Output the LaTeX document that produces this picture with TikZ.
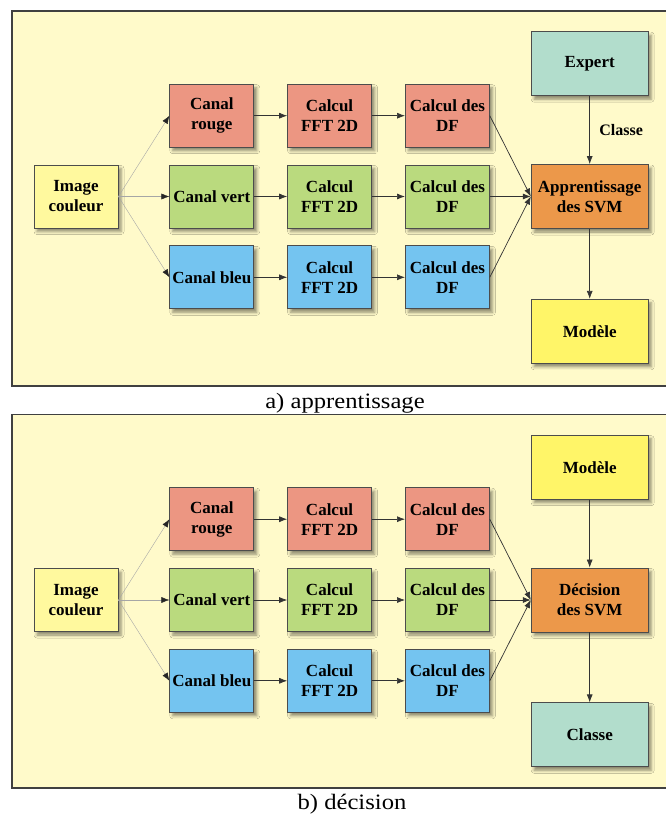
\documentclass[tikz,border=0pt]{standalone}
\usepackage{fontspec,graphicx}
\setmainfont{Liberation Serif}
\usetikzlibrary{arrows.meta,positioning,shadows.blur}
\definecolor{fondjaune}{RGB}{255,250,202}
\definecolor{jaunepale}{RGB}{255,249,158}
\definecolor{jaunevif}{RGB}{255,245,104}
\definecolor{saumon}{RGB}{236,150,130}
\definecolor{vertclair}{RGB}{186,218,126}
\definecolor{bleuciel}{RGB}{116,196,240}
\definecolor{orangesvm}{RGB}{236,152,74}
\definecolor{menthe}{RGB}{178,221,204}
\tikzset{
  blk/.style={draw=black!70,line width=0.8pt,rectangle,minimum width=84pt,minimum height=63pt,inner sep=1pt,align=center,
    font=\bfseries\fontsize{17}{20}\selectfont,
    blur shadow={shadow xshift=3pt,shadow yshift=-3.5pt,shadow blur radius=3pt,shadow opacity=45}},
  wideblk/.style={blk,minimum width=117pt,minimum height=64pt},
  imgblk/.style={blk,fill=jaunepale},
  rougeblk/.style={blk,fill=saumon},
  vertblk/.style={blk,fill=vertclair},
  bleublk/.style={blk,fill=bleuciel},
  svmblk/.style={wideblk,fill=orangesvm},
  mentheblk/.style={wideblk,fill=menthe},
  modblk/.style={wideblk,fill=jaunevif},
  arr/.style={-{Latex[length=8pt,width=6pt]},line width=0.7pt,draw=black!80},
  farr/.style={-{Latex[length=8pt,width=6pt,color=black!85]},line width=0.4pt,draw=black!35},
  cadre/.style={draw=black!75,line width=1.6pt},
  lbl/.style={font=\bfseries\fontsize{16}{19}\selectfont},
  legende/.style={font=\fontsize{22}{26}\selectfont,inner sep=0pt,anchor=base}
}
\begin{document}
\begin{tikzpicture}[x=1pt,y=-1pt,node distance=17pt and 33pt]
  \useasboundingbox (0,0) rectangle (666,814);
  \clip (0,0) rectangle (666,814);

  % a) apprentissage
  \fill[fondjaune] (12,11) rectangle (680,386);
  \draw[cadre] (680,11) -- (12,11) -- (12,386) -- (680,386);

  \node[imgblk] (imgA) at (76,196.5) {Image\\couleur};
  \node[vertblk, right=51pt of imgA] (vertA) {Canal vert};
  \node[rougeblk, above=of vertA] (rougeA) {Canal\\rouge};
  \node[bleublk, below=of vertA] (bleuA) {Canal bleu};
  \node[rougeblk, right=of rougeA] (fftrA) {Calcul\\FFT 2D};
  \node[vertblk, right=of vertA] (fftvA) {Calcul\\FFT 2D};
  \node[bleublk, right=of bleuA] (fftbA) {Calcul\\FFT 2D};
  \node[rougeblk, right=of fftrA] (dfrA) {Calcul des\\DF};
  \node[vertblk, right=of fftvA] (dfvA) {Calcul des\\DF};
  \node[bleublk, right=of fftbA] (dfbA) {Calcul des\\DF};
  \node[svmblk, right=41pt of dfvA] (svmA) {Apprentissage\\des SVM};
  \node[mentheblk, above=68pt of svmA] (expert) {Expert};
  \node[modblk, below=70pt of svmA] (modA) {Modèle};

  \draw[farr] (imgA.east) -- (rougeA.west);
  \draw[farr] (imgA.east) -- (vertA.west);
  \draw[farr] (imgA.east) -- (bleuA.west);
  \draw[arr] (rougeA) -- (fftrA);
  \draw[arr] (vertA) -- (fftvA);
  \draw[arr] (bleuA) -- (fftbA);
  \draw[arr] (fftrA) -- (dfrA);
  \draw[arr] (fftvA) -- (dfvA);
  \draw[arr] (fftbA) -- (dfbA);
  \draw[arr] (dfrA.east) -- (svmA.west);
  \draw[arr] (dfvA.east) -- (svmA.west);
  \draw[arr] (dfbA.east) -- (svmA.west);
  \draw[arr] (expert) -- node[lbl, right=6pt] (classeA) {Classe} (svmA);
  \draw[arr] (svmA) -- (modA);

  \node[legende] (legA) at (345,408) {\scalebox{1.12}[1]{a) apprentissage}};

  % b) decision
  \fill[fondjaune] (12,414.5) rectangle (680,788);
  \draw[cadre] (680,414.5) -- (12,414.5) -- (12,788) -- (680,788);

  \begin{scope}[yshift=-403.5pt]
    \node[imgblk] (imgB) at (76,196.5) {Image\\couleur};
    \node[vertblk, right=51pt of imgB] (vertB) {Canal vert};
    \node[rougeblk, above=of vertB] (rougeB) {Canal\\rouge};
    \node[bleublk, below=of vertB] (bleuB) {Canal bleu};
    \node[rougeblk, right=of rougeB] (fftrB) {Calcul\\FFT 2D};
    \node[vertblk, right=of vertB] (fftvB) {Calcul\\FFT 2D};
    \node[bleublk, right=of bleuB] (fftbB) {Calcul\\FFT 2D};
    \node[rougeblk, right=of fftrB] (dfrB) {Calcul des\\DF};
    \node[vertblk, right=of fftvB] (dfvB) {Calcul des\\DF};
    \node[bleublk, right=of fftbB] (dfbB) {Calcul des\\DF};
    \node[svmblk, right=41pt of dfvB] (svmB) {Décision\\des SVM};
    \node[modblk, above=68pt of svmB] (modB) {Modèle};
    \node[mentheblk, below=70pt of svmB] (classeB) {Classe};
  \end{scope}

  \draw[farr] (imgB.east) -- (rougeB.west);
  \draw[farr] (imgB.east) -- (vertB.west);
  \draw[farr] (imgB.east) -- (bleuB.west);
  \draw[arr] (rougeB) -- (fftrB);
  \draw[arr] (vertB) -- (fftvB);
  \draw[arr] (bleuB) -- (fftbB);
  \draw[arr] (fftrB) -- (dfrB);
  \draw[arr] (fftvB) -- (dfvB);
  \draw[arr] (fftbB) -- (dfbB);
  \draw[arr] (dfrB.east) -- (svmB.west);
  \draw[arr] (dfvB.east) -- (svmB.west);
  \draw[arr] (dfbB.east) -- (svmB.west);
  \draw[arr] (modB) -- (svmB);
  \draw[arr] (svmB) -- (classeB);

  \node[legende] (legB) at (352,809) {\scalebox{1.12}[1]{b) décision}};
\end{tikzpicture}
\end{document}
